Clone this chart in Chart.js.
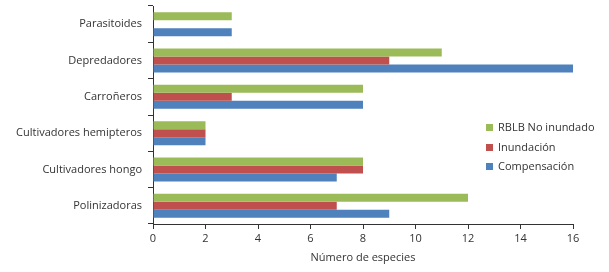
<!DOCTYPE html>
<html>
<head>
<meta charset="utf-8">
<script src="https://cdn.jsdelivr.net/npm/chart.js@4"></script>
<style>
  html,body{margin:0;padding:0;background:#fff;}
  #wrap{position:relative;width:609px;height:272px;}
  #legend{position:absolute;left:486px;top:119px;font:11px "Open Sans",sans-serif;color:#333;}
  #legend div{height:19.5px;line-height:16px;white-space:nowrap;}
  #legend span{display:inline-block;width:7px;height:7px;margin-right:5px;vertical-align:0px;}
</style>
</head>
<body>
<div id="wrap">
  <canvas id="c" width="609" height="272"></canvas>
  <div id="legend"></div>
</div>
<script>
const categorias = ['Parasitoides','Depredadores','Carroñeros','Cultivadores hemipteros','Cultivadores hongo','Polinizadoras'];
const noInundado = [3, 11, 8, 2, 8, 12];
const inundacion = [0, 9, 3, 2, 8, 7];
const compensacion = [3, 16, 8, 2, 7, 9];
const xTicks = [0, 2, 4, 6, 8, 10, 12, 14, 16];

const VERDE = '#9BBB59', ROJO = '#C0504D', AZUL = '#4F81BD';
const FONT = '"Open Sans", sans-serif';
const TXT = '#333';
const AXIS = '#333';

const series = [
  { label: 'RBLB No inundado', data: noInundado, color: VERDE },
  { label: 'Inundación', data: inundacion, color: ROJO },
  { label: 'Compensación', data: compensacion, color: AZUL }
];

new Chart(document.getElementById('c'), {
  type: 'bar',
  data: {
    labels: categorias,
    datasets: series.map(s => ({
      label: s.label, data: s.data, backgroundColor: s.color,
      borderWidth: 0, categoryPercentage: 0.66, barPercentage: 1
    }))
  },
  options: {
    indexAxis: 'y',
    responsive: false,
    animation: false,
    layout: { padding: { top: 6, right: 36, bottom: 0, left: 0 } },
    plugins: { legend: { display: false }, tooltip: { enabled: false } },
    scales: {
      x: {
        min: 0, max: 16,
        afterBuildTicks: a => { a.ticks = xTicks.map(v => ({ value: v })); },
        afterFit: a => { a.height = 48; },
        grid: { drawOnChartArea: false, drawTicks: true, tickLength: 5, color: AXIS },
        border: { color: AXIS, width: 1 },
        ticks: { font: { family: FONT, size: 11 }, color: TXT, padding: 3, maxRotation: 0 },
        title: { display: true, text: 'Número de especies', font: { family: FONT, size: 11 }, color: TXT, padding: { top: 4, bottom: 8 } }
      },
      y: {
        afterFit: a => { a.width = 153; a.paddingTop = 0; a.paddingBottom = 0; },
        grid: { offset: true, drawOnChartArea: false, drawTicks: true, tickLength: 5, color: AXIS },
        border: { color: AXIS, width: 1 },
        ticks: { font: { family: FONT, size: 11 }, color: TXT, padding: 6 }
      }
    }
  }
});

const leg = document.getElementById('legend');
series.forEach(s => {
  const d = document.createElement('div');
  d.innerHTML = `<span style="background:${s.color}"></span>${s.label}`;
  leg.appendChild(d);
});
</script>
</body>
</html>
